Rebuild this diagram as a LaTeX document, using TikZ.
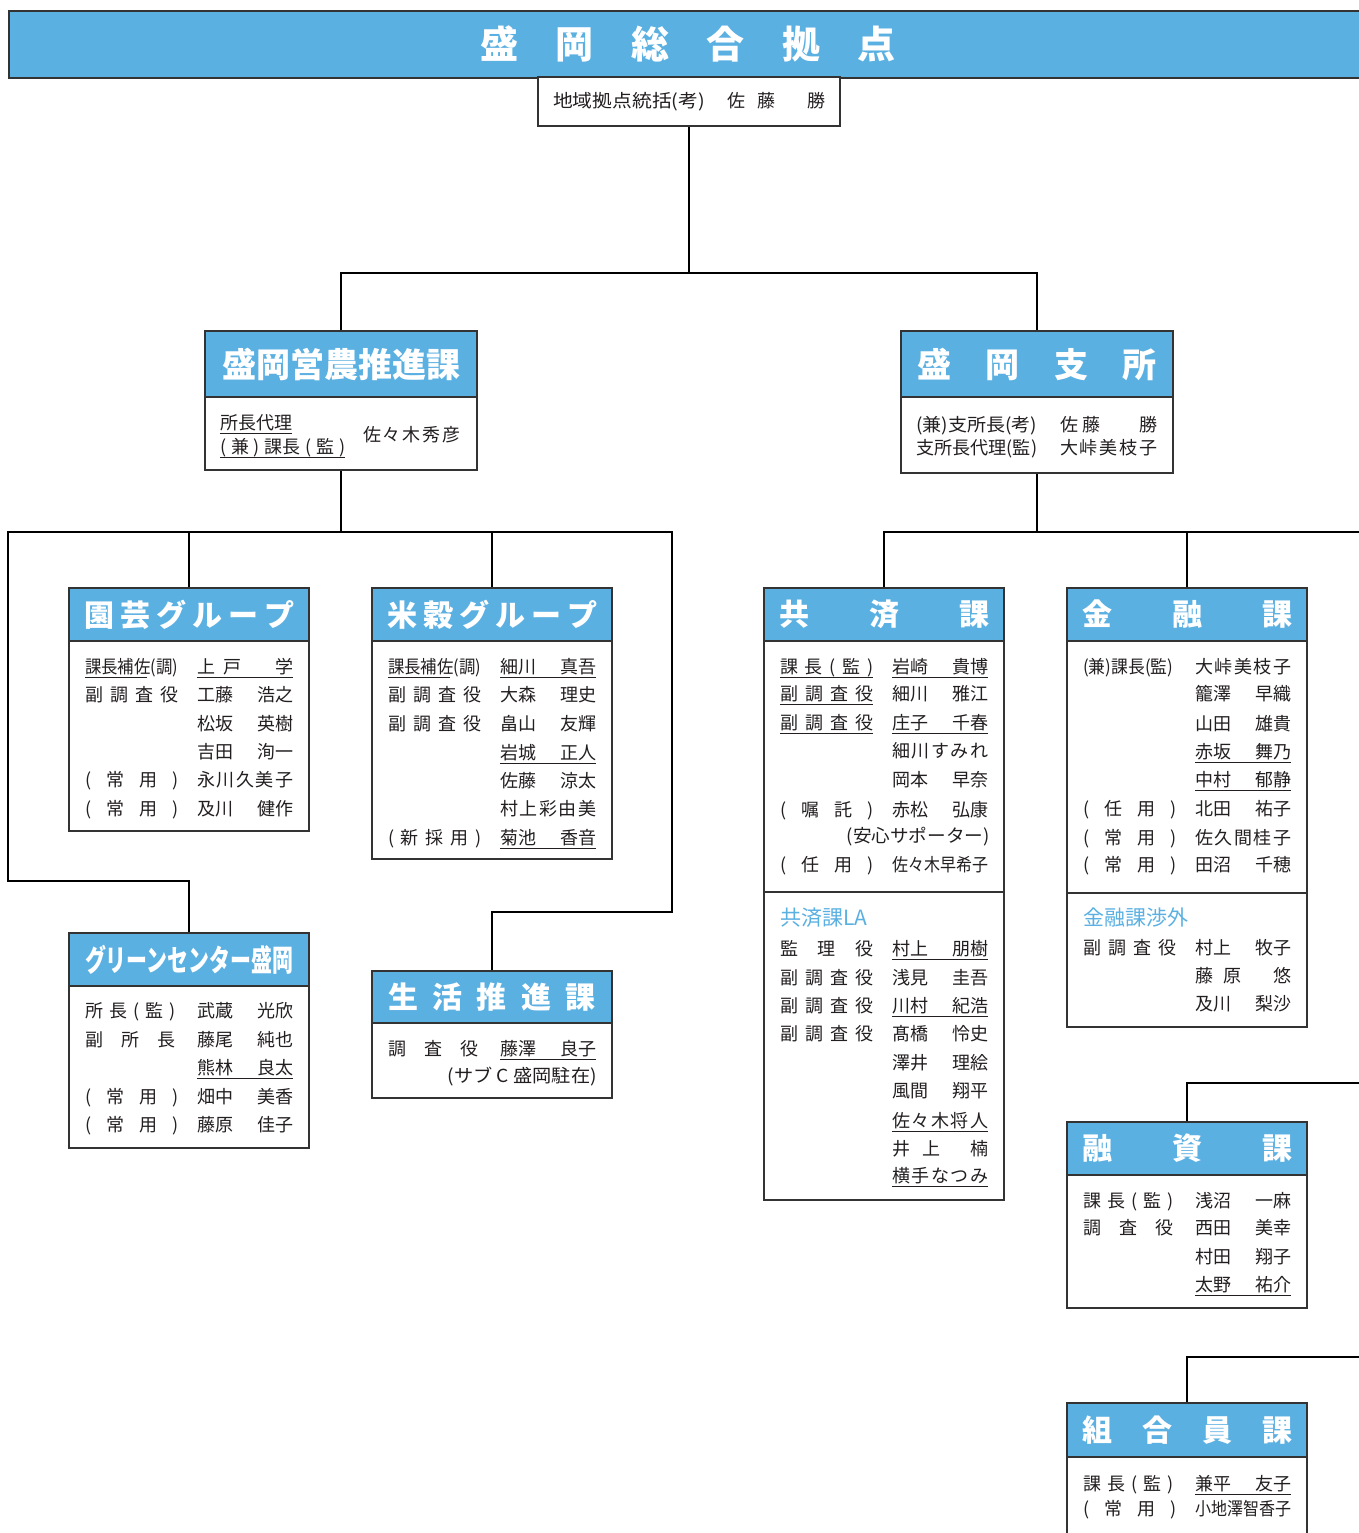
\documentclass[tikz,border=0pt]{standalone}
\usepackage{fontspec}
\usepackage{graphicx}
\setmainfont{Noto Sans CJK JP}
\usetikzlibrary{calc}
\definecolor{hblue}{RGB}{91,176,226}
\definecolor{boxc}{RGB}{51,51,51}
\definecolor{ink}{RGB}{35,31,32}
\newcommand\sj[2]{\makebox[#1pt][s]{#2}}
\newcommand\fw[2]{\resizebox{#1pt}{\height}{#2}}
\newcommand\U[1]{\draw[ul] ([yshift=-4.5pt]#1.base west) -- ([yshift=-4.5pt]#1.base east);}
\newcommand\UP[2]{\draw[ul] ([yshift=-4.5pt]#1.base west) -- ++(#2,0);}
\newcommand\T[4]{\node[txt] (#1) at (#2,#3) {#4};}
\begin{document}
\begin{tikzpicture}[x=1pt,y=-1pt,
  box/.style={draw=boxc, line width=1.8pt, fill=white, inner sep=0, minimum width=240},
  hdr/.style={draw=boxc, line width=1.8pt, fill=hblue, inner sep=0, text=white, font=\fontsize{30}{30}\selectfont\bfseries, minimum width=240},
  txt/.style={inner sep=0, anchor=base west, text=ink, font=\fontsize{18}{18}\selectfont},
  txtr/.style={txt, anchor=base east},
  lbl/.style={inner sep=0, anchor=base west, text=hblue, font=\fontsize{21}{21}\selectfont},
  conn/.style={draw=black, line width=2.4pt},
  ul/.style={draw=ink, line width=1.2pt}]
\useasboundingbox (0,0) rectangle (1358,1533);

% ---------- top ----------
\node[hdr, anchor=north west, minimum width=1370, minimum height=67] (banner) at (8,10) {};
\node[inner sep=0, text=white, font=\fontsize{38}{38}\selectfont\bfseries] (bantitle) at (688,44) {\sj{416}{盛\hfill 岡\hfill 総\hfill 合\hfill 拠\hfill 点}};
\node[box, minimum width=302, minimum height=49, text=ink, font=\fontsize{18}{18}\selectfont] (sub) at (689,101.5) {\fw{152}{地域拠点統括(考)}\hspace{22pt}佐\hspace{12pt}藤\hspace{32pt}勝};

% ---------- 盛岡営農推進課 ----------
\node[hdr, minimum width=272, minimum height=66, font=\fontsize{34}{34}\selectfont\bfseries] (heino) at (341,364) {盛岡営農推進課};
\node[box, minimum width=272, minimum height=73] (beino) at (341,433.5) {};
\T{ei1}{220}{429}{所長代理}
\T{ei2}{220}{453}{\sj{125}{(\hfill 兼\hfill )\hfill 課長\hfill (\hfill 監\hfill )}}
\T{ei3}{363}{441}{\sj{97}{佐\hfill 々\hfill 木\hfill 秀\hfill 彦}}
\U{ei1}\U{ei2}

% ---------- 盛岡支所 ----------
\node[hdr, minimum width=272, minimum height=66, font=\fontsize{34}{34}\selectfont\bfseries] (hshisho) at (1037,364) {\sj{240}{盛\hfill 岡\hfill 支\hfill 所}};
\node[box, minimum width=272, minimum height=76] (bshisho) at (1037,435) {};
\T{sh1l}{916}{431}{\fw{121}{(兼)支所長(考)}}
\T{sh1r}{1060}{431}{\sj{97}{佐\hspace{4pt}藤\hfill 勝}}
\T{sh2l}{916}{454}{\fw{121}{支所長代理(監)}}
\T{sh2r}{1060}{454}{\sj{97}{大\hfill 峠\hfill 美\hfill 枝\hfill 子}}

% ---------- 園芸グループ ----------
\node[hdr, minimum height=53] (hengei) at (189,614.5) {\sj{210}{園\hfill 芸\hfill グ\hfill ル\hfill ー\hfill プ}};
\node[box, minimum height=190] (bengei) at (189,736) {};
\T{eg1l}{85}{673}{\fw{93}{課長補佐(調)}}
\T{eg1r}{197}{673}{\sj{96}{上\hspace{8pt}戸\hfill 学}}
\T{eg2l}{85}{701}{\sj{93}{副\hfill 調\hfill 査\hfill 役}}
\T{eg2r}{197}{701}{\sj{96}{工藤\hfill 浩之}}
\T{eg3r}{197}{730}{\sj{96}{松坂\hfill 英樹}}
\T{eg4r}{197}{758}{\sj{96}{吉田\hfill 洵一}}
\T{eg5l}{85}{786}{\sj{93}{(\hfill 常\hfill 用\hfill )}}
\T{eg5r}{197}{786}{\sj{96}{永\hfill 川\hfill 久\hfill 美\hfill 子}}
\T{eg6l}{85}{815}{\sj{93}{(\hfill 常\hfill 用\hfill )}}
\T{eg6r}{197}{815}{\sj{96}{及川\hfill 健作}}
\UP{eg1l}{62}\U{eg1r}

% ---------- 米穀グループ ----------
\node[hdr, minimum height=53] (hbeikoku) at (492,614.5) {\sj{210}{米\hfill 穀\hfill グ\hfill ル\hfill ー\hfill プ}};
\node[box, minimum height=218] (bbeikoku) at (492,750) {};
\T{bk1l}{388}{673}{\fw{93}{課長補佐(調)}}
\T{bk1r}{500}{673}{\sj{96}{細川\hfill 真吾}}
\T{bk2l}{388}{701}{\sj{93}{副\hfill 調\hfill 査\hfill 役}}
\T{bk2r}{500}{701}{\sj{96}{大森\hfill 理史}}
\T{bk3l}{388}{730}{\sj{93}{副\hfill 調\hfill 査\hfill 役}}
\T{bk3r}{500}{730}{\sj{96}{畠山\hfill 友輝}}
\T{bk4r}{500}{759}{\sj{96}{岩城\hfill 正人}}
\T{bk5r}{500}{787}{\sj{96}{佐藤\hfill 涼太}}
\T{bk6r}{500}{815}{\sj{96}{村\hfill 上\hfill 彩\hfill 由\hfill 美}}
\T{bk7l}{388}{844}{\sj{93}{(\hfill 新\hfill 採\hfill 用\hfill )}}
\T{bk7r}{500}{844}{\sj{96}{菊池\hfill 香音}}
\UP{bk1l}{62}\U{bk1r}\U{bk4r}\U{bk7r}

% ---------- 共済課 ----------
\node[hdr, minimum height=53] (hkyosai) at (884,614.5) {\sj{210}{共\hfill 済\hfill 課}};
\node[box, minimum height=251] (bkyo1) at (884,766.5) {};
\node[box, minimum height=308] (bkyo2) at (884,1046) {};
\T{ky1l}{780}{673}{\sj{93}{課\hfill 長\hfill (\hfill 監\hfill )}}
\T{ky1r}{892}{673}{\sj{96}{岩崎\hfill 貴博}}
\T{ky2l}{780}{700}{\sj{93}{副\hfill 調\hfill 査\hfill 役}}
\T{ky2r}{892}{700}{\sj{96}{細川\hfill 雅江}}
\T{ky3l}{780}{729}{\sj{93}{副\hfill 調\hfill 査\hfill 役}}
\T{ky3r}{892}{729}{\sj{96}{庄子\hfill 千春}}
\T{ky4r}{892}{757}{\sj{96}{細\hfill 川\hfill す\hfill み\hfill れ}}
\T{ky5r}{892}{786}{\sj{96}{岡本\hfill 早奈}}
\T{ky6l}{780}{816}{\sj{93}{(\hfill 嘱\hfill 託\hfill )}}
\T{ky6r}{892}{816}{\sj{96}{赤松\hfill 弘康}}
\node[txtr] (ky7) at (990,842) {\fw{143}{(安心サポーター)}};
\T{ky8l}{780}{871}{\sj{93}{(\hfill 任\hfill 用\hfill )}}
\T{ky8r}{892}{871}{\fw{96}{佐々木早希子}}
\U{ky1l}\U{ky1r}\U{ky2l}\U{ky3l}\U{ky3r}
\node[lbl] (kla) at (780,925) {共済課LA};
\T{la1l}{780}{955}{\sj{93}{監\hfill 理\hfill 役}}
\T{la1r}{892}{955}{\sj{96}{村上\hfill 朋樹}}
\T{la2l}{780}{984}{\sj{93}{副\hfill 調\hfill 査\hfill 役}}
\T{la2r}{892}{984}{\sj{96}{浅見\hfill 圭吾}}
\T{la3l}{780}{1012}{\sj{93}{副\hfill 調\hfill 査\hfill 役}}
\T{la3r}{892}{1012}{\sj{96}{川村\hfill 紀浩}}
\T{la4l}{780}{1040}{\sj{93}{副\hfill 調\hfill 査\hfill 役}}
\T{la4r}{892}{1040}{\sj{96}{髙橋\hfill 怜史}}
\T{la5r}{892}{1069}{\sj{96}{澤井\hfill 理絵}}
\T{la6r}{892}{1097}{\sj{96}{風間\hfill 翔平}}
\T{la7r}{892}{1127}{\sj{96}{佐\hfill 々\hfill 木\hfill 将\hfill 人}}
\T{la8r}{892}{1155}{\sj{96}{井\hspace{12pt}上\hfill 楠}}
\T{la9r}{892}{1182}{\sj{96}{横\hfill 手\hfill な\hfill つ\hfill み}}
\U{la1r}\U{la3r}\U{la7r}\U{la9r}

% ---------- 金融課 ----------
\node[hdr, minimum height=53] (hkinyu) at (1187,614.5) {\sj{210}{金\hfill 融\hfill 課}};
\node[box, minimum height=252] (bkin1) at (1187,767) {};
\node[box, minimum height=134] (bkin2) at (1187,960) {};
\T{kn1l}{1083}{673}{\fw{90}{(兼)課長(監)}}
\T{kn1r}{1195}{673}{\sj{96}{大\hfill 峠\hfill 美\hfill 枝\hfill 子}}
\T{kn2r}{1195}{700}{\sj{96}{籠澤\hfill 早織}}
\T{kn3r}{1195}{730}{\sj{96}{山田\hfill 雄貴}}
\T{kn4r}{1195}{758}{\sj{96}{赤坂\hfill 舞乃}}
\T{kn5r}{1195}{786}{\sj{96}{中村\hfill 郁静}}
\T{kn6l}{1083}{815}{\sj{93}{(\hfill 任\hfill 用\hfill )}}
\T{kn6r}{1195}{815}{\sj{96}{北田\hfill 祐子}}
\T{kn7l}{1083}{844}{\sj{93}{(\hfill 常\hfill 用\hfill )}}
\T{kn7r}{1195}{844}{\sj{96}{佐\hfill 久\hfill 間\hfill 桂\hfill 子}}
\T{kn8l}{1083}{871}{\sj{93}{(\hfill 常\hfill 用\hfill )}}
\T{kn8r}{1195}{871}{\sj{96}{田沼\hfill 千穂}}
\U{kn4r}\U{kn5r}
\node[lbl] (kgl) at (1083,925) {金融課渉外};
\T{kg1l}{1083}{954}{\sj{93}{副\hfill 調\hfill 査\hfill 役}}
\T{kg1r}{1195}{954}{\sj{96}{村上\hfill 牧子}}
\T{kg2r}{1195}{982}{\sj{96}{藤\hspace{10pt}原\hfill 悠}}
\T{kg3r}{1195}{1010}{\sj{96}{及川\hfill 梨沙}}

% ---------- グリーンセンター盛岡 ----------
\node[hdr, minimum height=53] (hgreen) at (189,959.5) {\fw{208}{グリーンセンター盛岡}};
\node[box, minimum height=162] (bgreen) at (189,1067) {};
\T{gr1l}{85}{1017}{\sj{90}{所\hfill 長\hfill (\hfill 監\hfill )}}
\T{gr1r}{197}{1017}{\sj{96}{武蔵\hfill 光欣}}
\T{gr2l}{85}{1046}{\sj{90}{副\hfill 所\hfill 長}}
\T{gr2r}{197}{1046}{\sj{96}{藤尾\hfill 純也}}
\T{gr3r}{197}{1074}{\sj{96}{熊林\hfill 良太}}
\T{gr4l}{85}{1103}{\sj{93}{(\hfill 常\hfill 用\hfill )}}
\T{gr4r}{197}{1103}{\sj{96}{畑中\hfill 美香}}
\T{gr5l}{85}{1131}{\sj{93}{(\hfill 常\hfill 用\hfill )}}
\T{gr5r}{197}{1131}{\sj{96}{藤原\hfill 佳子}}
\U{gr3r}

% ---------- 生活推進課 ----------
\node[hdr, minimum height=52] (hseikatsu) at (492,997) {\sj{208}{生\hfill 活\hfill 推\hfill 進\hfill 課}};
\node[box, minimum height=75] (bseikatsu) at (492,1060.5) {};
\T{se1l}{388}{1055}{\sj{90}{調\hfill 査\hfill 役}}
\T{se1r}{500}{1055}{\sj{96}{藤澤\hfill 良子}}
\node[txtr] (se2) at (597,1082) {\fw{149}{(サブ C 盛岡駐在)}};
\U{se1r}

% ---------- 融資課 ----------
\node[hdr, minimum height=53] (hyushi) at (1187,1148.5) {\sj{210}{融\hfill 資\hfill 課}};
\node[box, minimum height=133] (byushi) at (1187,1241.5) {};
\T{ys1l}{1083}{1207}{\sj{90}{課\hfill 長\hfill (\hfill 監\hfill )}}
\T{ys1r}{1195}{1207}{\sj{96}{浅沼\hfill 一麻}}
\T{ys2l}{1083}{1234}{\sj{90}{調\hfill 査\hfill 役}}
\T{ys2r}{1195}{1234}{\sj{96}{西田\hfill 美幸}}
\T{ys3r}{1195}{1263}{\sj{96}{村田\hfill 翔子}}
\T{ys4r}{1195}{1291}{\sj{96}{太野\hfill 祐介}}
\U{ys4r}

% ---------- 組合員課 ----------
\node[hdr, minimum height=54] (hkumiai) at (1187,1430) {\sj{210}{組\hfill 合\hfill 員\hfill 課}};
\node[box, minimum height=103] (bkumiai) at (1187,1508.5) {};
\T{km1l}{1083}{1490}{\sj{90}{課\hfill 長\hfill (\hfill 監\hfill )}}
\T{km1r}{1195}{1490}{\sj{96}{兼平\hfill 友子}}
\T{km2l}{1083}{1515}{\sj{93}{(\hfill 常\hfill 用\hfill )}}
\T{km2r}{1195}{1515}{\fw{96}{小地澤智香子}}
\U{km1r}

% ---------- connectors ----------
\coordinate (j0) at (689,273);
\coordinate (cLL) at (8,532);
\coordinate (cLR) at (672,532);
\coordinate (g1) at (8,881);
\coordinate (s1) at (672,912);
\coordinate (cRR) at (1372,532);
\coordinate (cY1) at (1372,1083);
\coordinate (cY2) at (1372,1357);
\draw[conn] (sub.south) -- (j0);
\draw[conn] (heino.north) |- (j0) -| (hshisho.north);
\draw[conn] (beino.south) -- (beino.south |- cLL);
\draw[conn] (hgreen.north) |- (g1) -- (cLL) -- (cLR) -- (s1) -| (hseikatsu.north);
\draw[conn] (hengei.north) -- (hengei.north |- cLL);
\draw[conn] (hbeikoku.north) -- (hbeikoku.north |- cLL);
\draw[conn] (bshisho.south) -- (bshisho.south |- cRR);
\draw[conn] (hkyosai.north) |- (cRR);
\draw[conn] (hkinyu.north) -- (hkinyu.north |- cRR);
\draw[conn] (hyushi.north) |- (cY1);
\draw[conn] (hkumiai.north) |- (cY2);
\end{tikzpicture}
\end{document}
